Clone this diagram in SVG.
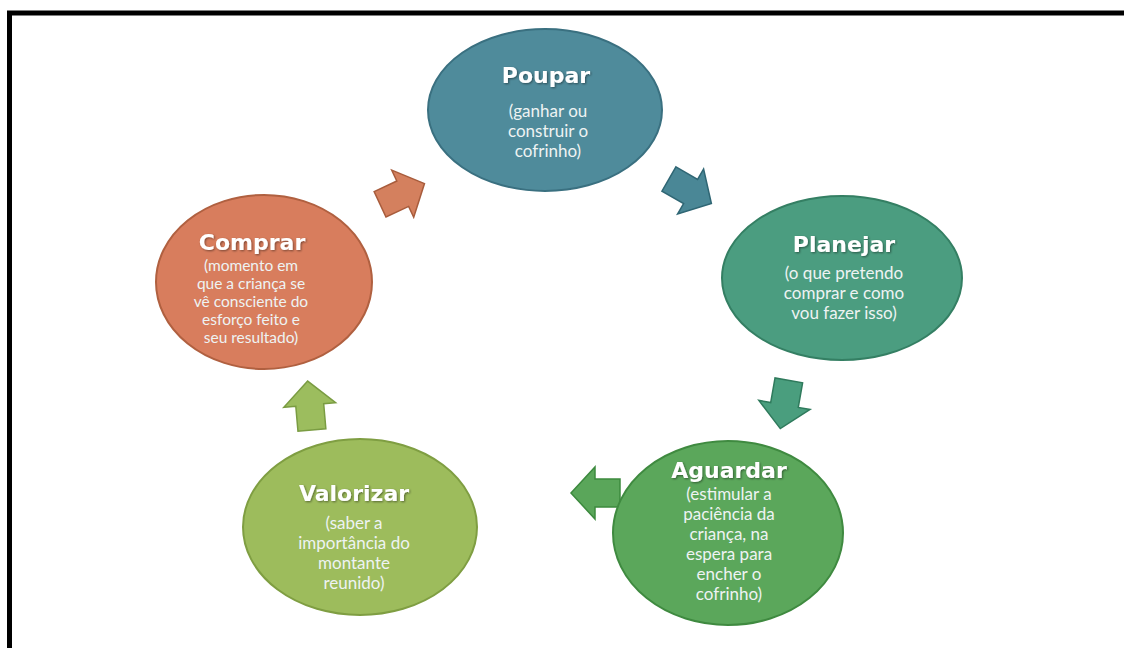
<svg xmlns="http://www.w3.org/2000/svg" width="1124" height="648" viewBox="0 0 1124 648">
<defs>
<style>
.t{font-family:"DejaVu Sans",sans-serif;font-weight:bold;font-size:22px;fill:#ffffff;text-anchor:middle}
.b{font-family:Lato,"Open Sans",sans-serif;font-size:17px;fill:#eef3f3;text-anchor:middle}
.s{font-size:15.5px}
.arr{stroke-width:1.5}
</style>
<filter id="sh" x="-10%" y="-10%" width="120%" height="130%">
<feDropShadow dx="1" dy="1" stdDeviation="1" flood-color="#000" flood-opacity="0.45"/>
</filter>
<path id="ar" d="M-22,-14 L3,-14 L3,-26 L27,0 L3,26 L3,14 L-22,14 Z"/>
</defs>
<rect x="0" y="0" width="1124" height="648" fill="#ffffff"/>
<rect x="9.5" y="13" width="1130" height="650" fill="none" stroke="#000" stroke-width="5"/>

<g id="connectors">
<use href="#ar" transform="translate(400,195) rotate(-25)" fill="#d4805e" stroke="#a85c3c" class="arr"/>
<use href="#ar" transform="translate(688,190) rotate(30)" fill="#4a8796" stroke="#2f6674" class="arr"/>
<use href="#ar" transform="translate(785,402) rotate(100)" fill="#4a9e7e" stroke="#2f7a5c" class="arr"/>
<use href="#ar" transform="translate(598,493) rotate(180)" fill="#5aa65a" stroke="#3c8a3e" class="arr"/>
<use href="#ar" transform="translate(310,408) rotate(-95)" fill="#9cbd5e" stroke="#7a9c42" class="arr"/>
</g>

<g id="poupar">
<ellipse cx="545" cy="110" rx="117" ry="81" fill="#4f8b9b" stroke="#3a7080" stroke-width="2"/>
<text class="t" x="546" y="83" filter="url(#sh)">Poupar</text>
<text class="b" x="548" y="117">(ganhar ou</text>
<text class="b" x="548" y="137">construir o</text>
<text class="b" x="548" y="157">cofrinho)</text>
</g>

<g id="planejar">
<ellipse cx="842" cy="278" rx="120" ry="82" fill="#4b9d80" stroke="#347f63" stroke-width="2"/>
<text class="t" x="844" y="252" filter="url(#sh)">Planejar</text>
<text class="b" x="844" y="279">(o que pretendo</text>
<text class="b" x="844" y="299">comprar e como</text>
<text class="b" x="844" y="319">vou fazer isso)</text>
</g>

<g id="aguardar">
<ellipse cx="728" cy="533" rx="115" ry="92" fill="#5ba75b" stroke="#3f8a40" stroke-width="2"/>
<text class="t" x="729" y="478" filter="url(#sh)">Aguardar</text>
<text class="b" x="729" y="500">(estimular a</text>
<text class="b" x="729" y="520">paciência da</text>
<text class="b" x="729" y="540">criança, na</text>
<text class="b" x="729" y="560">espera para</text>
<text class="b" x="729" y="580">encher o</text>
<text class="b" x="729" y="600">cofrinho)</text>
</g>

<g id="valorizar">
<ellipse cx="360" cy="527" rx="117" ry="88" fill="#9dbc5c" stroke="#7f9e42" stroke-width="2"/>
<text class="t" x="354" y="501" filter="url(#sh)">Valorizar</text>
<text class="b" x="354" y="529">(saber a</text>
<text class="b" x="354" y="549">importância do</text>
<text class="b" x="354" y="569">montante</text>
<text class="b" x="354" y="589">reunido)</text>
</g>

<g id="comprar">
<ellipse cx="264" cy="282" rx="108" ry="87" fill="#d87d5d" stroke="#b06040" stroke-width="2"/>
<text class="t" x="252" y="250" filter="url(#sh)">Comprar</text>
<text class="b s" x="251" y="271">(momento em</text>
<text class="b s" x="251" y="289">que a criança se</text>
<text class="b s" x="251" y="307">vê consciente do</text>
<text class="b s" x="251" y="325">esforço feito e</text>
<text class="b s" x="251" y="343">seu resultado)</text>
</g>
</svg>
